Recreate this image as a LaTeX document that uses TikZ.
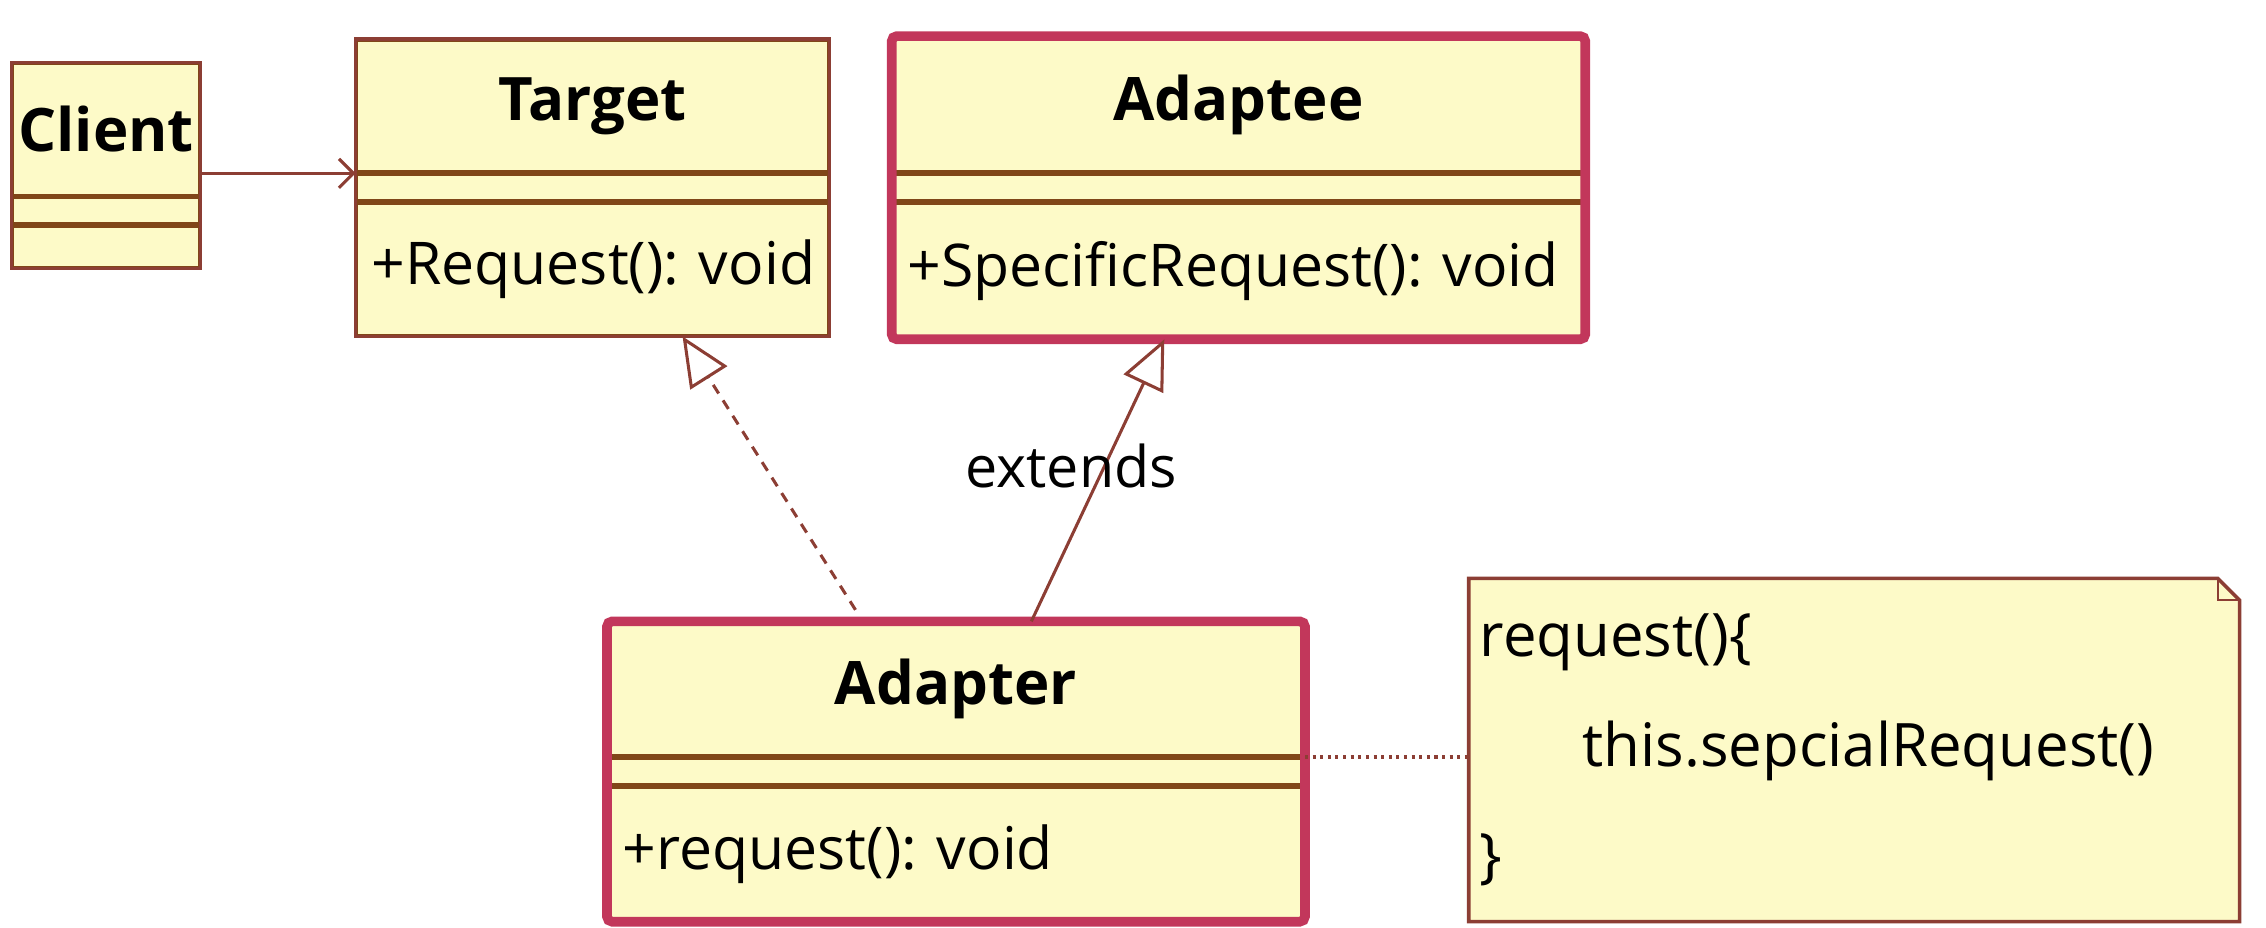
\documentclass[tikz,border=0pt]{standalone}
\usepackage{fontspec}
\setmainfont{Open Sans}
\usetikzlibrary{arrows.meta, calc, positioning, backgrounds}
\definecolor{clsfill}{RGB}{253,250,200}
\definecolor{clsline}{RGB}{140,62,52}
\definecolor{sepline}{RGB}{128,70,24}
\definecolor{hotline}{RGB}{194,55,91}
\frenchspacing
\tikzset{
  part/.style={draw=sepline, line width=0.55pt, fill=clsfill, inner sep=0pt, anchor=north},
  title/.style={part, font=\fontsize{11.8}{14}\selectfont\bfseries},
  ops/.style={part, font=\fontsize{11.6}{14}\selectfont, align=left, text width=#1, inner xsep=0.1cm},
  box/.style={draw=clsline, line width=0.6pt},
  hot/.style={draw=hotline, line width=1.9pt, rounded corners=1pt},
  assoc/.style={draw=clsline, line width=0.6pt, -{Straight Barb[length=1mm, width=2mm]}},
  realize/.style={draw=clsline, line width=0.6pt, dash pattern=on 2pt off 1.6pt, -{Triangle[open, length=3.4mm, width=3mm]}},
  extend/.style={draw=clsline, line width=0.6pt, -{Triangle[open, length=3.4mm, width=3mm]}},
  attach/.style={draw=clsline, line width=0.7pt, dash pattern=on 0.6pt off 0.9pt},
  notebox/.style={draw=clsline, line width=0.7pt, fill=clsfill},
}
\begin{document}
\begin{tikzpicture}
\useasboundingbox (0,0) rectangle (15.68,6.42);
% Client
\node[title, minimum width=1.29cm, minimum height=0.91cm] (client) at (0.735,5.99) {Client};
\node[part, minimum width=1.29cm, minimum height=0.18cm] (client-a) at (client.south) {};
\node[part, minimum width=1.29cm, minimum height=0.28cm] (client-o) at (client-a.south) {};
\draw[box] (client.north west) rectangle (client-o.south east);
% Target
\node[title, minimum width=3.26cm, minimum height=0.91cm] (target) at (4.10,6.15) {Target};
\node[part, minimum width=3.26cm, minimum height=0.18cm] (target-a) at (target.south) {};
\node[ops=3.06cm, minimum width=3.26cm, minimum height=0.91cm] (target-o) at (target-a.south) {\mbox{+Request(): void}};
\draw[box] (target.north west) rectangle (target-o.south east);
% Adaptee
\node[title, minimum width=4.78cm, minimum height=0.93cm] (adaptee) at (8.57,6.17) {Adaptee};
\node[part, minimum width=4.78cm, minimum height=0.18cm] (adaptee-a) at (adaptee.south) {};
\node[ops=4.58cm, minimum width=4.78cm, minimum height=0.93cm] (adaptee-o) at (adaptee-a.south) {\mbox{+SpecificRequest(): void}};
\draw[hot] (adaptee.north west) rectangle (adaptee-o.south east);
% Adapter
\node[title, minimum width=4.81cm, minimum height=0.92cm] (adapter) at (6.615,2.12) {Adapter};
\node[part, minimum width=4.81cm, minimum height=0.18cm] (adapter-a) at (adapter.south) {};
\node[ops=4.61cm, minimum width=4.81cm, minimum height=0.92cm] (adapter-o) at (adapter-a.south) {\mbox{+request(): void}};
\draw[hot] (adapter.north west) rectangle (adapter-o.south east);
% note
\node[font=\fontsize{11.8}{21.6}\selectfont, align=left, text width=5.18cm, inner xsep=0.07cm,
  minimum width=5.32cm, minimum height=2.36cm] (note) at (12.83,1.23)
  {request()\{\\\hspace*{0.71cm}this.sepcialRequest()\\\}};
\begin{scope}[on background layer]
\draw[notebox] (note.south west) -- (note.north west) -- ($(note.north east)+(-0.15,0)$)
  -- ($(note.north east)+(0,-0.15)$) -- (note.south east) -- cycle;
\end{scope}
\draw[box, line width=0.5pt] ($(note.north east)+(-0.15,0)$) -- ($(note.north east)+(-0.15,-0.15)$) -- ($(note.north east)+(0,-0.15)$);
% connectors
\draw[assoc] (target.south west -| client.east) -- (target.south west);
\draw[realize] ($(adapter.north west)!0.356!(adapter.north east)+(0,0.08)$) -- ($(target-o.south west)!0.69!(target-o.south east)$);
\draw[extend] ($(adapter.north west)!0.608!(adapter.north east)$) -- node[pos=0.55, xshift=-2.3mm, font=\fontsize{11.3}{14}\selectfont, text=black] (ext) {extends} ($(adaptee-o.south west)!0.393!(adaptee-o.south east)$);
\draw[attach] (adapter-a.north east) -- (adapter-a.north east -| note.west);
\end{tikzpicture}
\end{document}
